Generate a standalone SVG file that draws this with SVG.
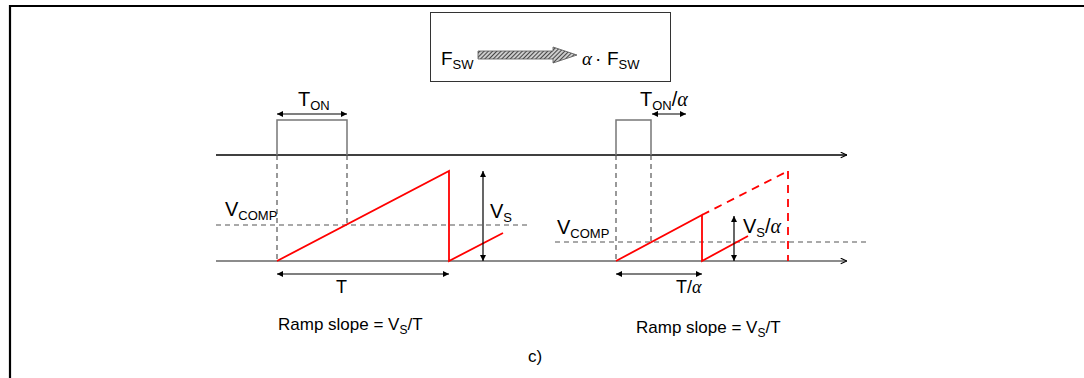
<svg xmlns="http://www.w3.org/2000/svg" width="1084" height="378" viewBox="0 0 1084 378">
<style>
text{font-family:"Liberation Sans",Arial,sans-serif;fill:#000}
.s17{font-size:17px}
.s18{font-size:18px}
.s19{font-size:19px}
.s20{font-size:20px}
.sub{font-size:13px}
.sub12{font-size:12px}
.al{font-family:"Liberation Serif","DejaVu Serif",serif;font-style:italic}
.axis{stroke:#000;stroke-width:1.5;fill:none}
.base{stroke:#666;stroke-width:1.5;fill:none}
.pulse{stroke:#777;stroke-width:1.5;fill:none}
.dash{stroke:#555;stroke-width:1.2;stroke-dasharray:5,4;fill:none}
.ramp{stroke:#ff0000;stroke-width:1.8;fill:none}
.rdash{stroke:#ff0000;stroke-width:1.8;stroke-dasharray:8,6;fill:none}
.dim{stroke:#000;stroke-width:1.2;fill:none;marker-start:url(#ah);marker-end:url(#ah)}
</style>
<defs>
<marker id="ah" viewBox="0 0 10 10" refX="10" refY="5" markerWidth="8" markerHeight="6" markerUnits="userSpaceOnUse" orient="auto-start-reverse"><path d="M0,0 L10,5 L0,10 z" fill="#000"/></marker>
<marker id="chev" viewBox="0 0 10 10" refX="10" refY="5" markerWidth="7" markerHeight="7" markerUnits="userSpaceOnUse" orient="auto"><path d="M1,1 L10,5 L1,9" fill="none" stroke="#000" stroke-width="1.6"/></marker>
<pattern id="hatch" width="3" height="3" patternUnits="userSpaceOnUse" patternTransform="rotate(45)"><rect width="3" height="3" fill="#ccc"/><line x1="0" y1="0" x2="0" y2="3" stroke="#222" stroke-width="1.6"/></pattern>
</defs>
<rect width="1084" height="378" fill="#fff"/>
<g id="frame">
<path d="M10,378 V6 H1084" fill="none" stroke="#000" stroke-width="2.2"/>
</g>
<g id="freq-box">
<rect x="430.5" y="12.5" width="240" height="69" fill="#fff" stroke="#333" stroke-width="1"/>
<text x="441" y="65" class="s19">F<tspan class="sub" dy="4">SW</tspan></text>
<polygon points="478,51 553,51 553,47 577,55 553,63 553,59 478,59" fill="url(#hatch)" stroke="#555" stroke-width="0.8"/>
<text y="65" class="s19"><tspan x="582" class="al">α</tspan><tspan x="595">·</tspan><tspan x="607">F</tspan><tspan class="sub" dy="4">SW</tspan></text>
</g>
<g id="axes">
<line x1="216" y1="155" x2="847" y2="155" class="axis" marker-end="url(#chev)"/>
<line x1="216" y1="261" x2="847" y2="261" class="base" marker-end="url(#chev)"/>
<line x1="216" y1="225" x2="530" y2="225" class="dash"/>
<line x1="555" y1="242" x2="866" y2="242" class="dash"/>
</g>
<g id="left-waveform">
<path d="M277,155 V120 H347 V155" class="pulse"/>
<line x1="277" y1="155" x2="277" y2="261" class="dash"/>
<line x1="347" y1="155" x2="347" y2="225" class="dash"/>
<path d="M277,261 L449,171 V261 L503,233" class="ramp"/>
</g>
<g id="right-waveform">
<path d="M616,155 V120 H651 V155" class="pulse"/>
<line x1="616" y1="155" x2="616" y2="261" class="dash"/>
<line x1="651" y1="155" x2="651" y2="242" class="dash"/>
<path d="M616,261 L702,215 V261 L748,236" class="ramp"/>
<path d="M702,215 L788,171" class="rdash"/>
<line x1="788" y1="171" x2="788" y2="261" class="rdash"/>
</g>
<g id="connectors">
<line x1="277" y1="114" x2="347" y2="114" class="dim"/>
<line x1="483" y1="171" x2="483" y2="261" class="dim"/>
<line x1="277" y1="274" x2="449" y2="274" class="dim"/>
<line x1="652" y1="114" x2="686" y2="114" class="dim"/>
<line x1="734" y1="216" x2="734" y2="261" class="dim"/>
<line x1="616" y1="274" x2="702" y2="274" class="dim"/>
</g>
<g id="labels">
<text x="298" y="106" class="s20">T<tspan class="sub" dy="4">ON</tspan></text>
<text x="225" y="216" class="s20">V<tspan class="sub" dy="4">COMP</tspan></text>
<text x="490" y="218" class="s20">V<tspan class="sub" dy="4">S</tspan></text>
<text x="336" y="293" class="s18">T</text>
<text x="278" y="330" class="s17">Ramp slope = V<tspan class="sub12" dy="4">S</tspan><tspan dy="-4">/T</tspan></text>
<text x="640" y="106" class="s20">T<tspan class="sub" dy="4">ON</tspan><tspan dy="-4">/</tspan><tspan class="al">α</tspan></text>
<text x="557" y="234" class="s20">V<tspan class="sub" dy="4">COMP</tspan></text>
<text x="743" y="233" class="s20">V<tspan class="sub" dy="4">S</tspan><tspan dy="-4">/</tspan><tspan class="al">α</tspan></text>
<text x="676" y="293" class="s18">T/<tspan class="al">α</tspan></text>
<text x="636" y="333" class="s17">Ramp slope = V<tspan class="sub12" dy="4">S</tspan><tspan dy="-4">/T</tspan></text>
<text x="528" y="362" class="s17">c)</text>
</g>
</svg>
